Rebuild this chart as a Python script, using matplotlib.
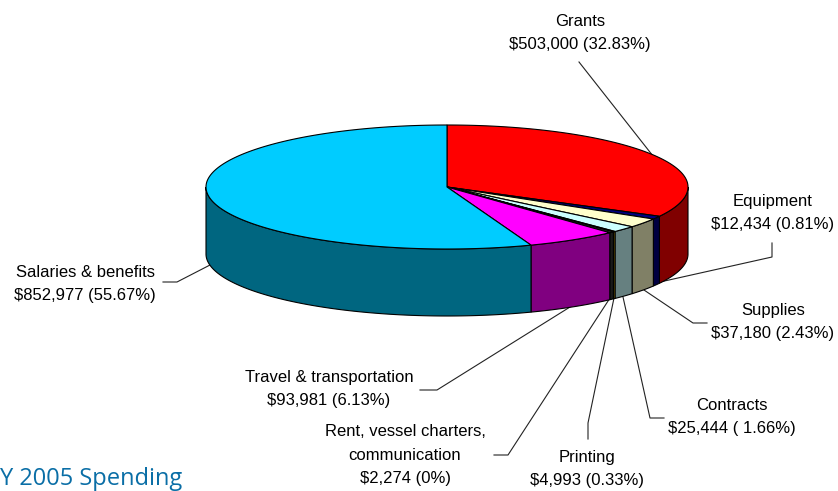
import matplotlib.pyplot as plt
import numpy as np

names = ['Grants', 'Equipment', 'Supplies', 'Contracts', 'Rent',
         'Printing', 'Travel', 'Salaries']
spending = [503000, 12434, 37180, 25444, 2274, 4993, 93981, 852977]
top_colors = ['#ff0000', '#000080', '#ffffcc', '#ccffff', '#ffcc00',
              '#333333', '#ff00ff', '#00ccff']
side_colors = ['#800000', '#000040', '#808066', '#668080', '#806600',
               '#1a1a1a', '#800080', '#006680']
labels = ['Grants\n$503,000 (32.83%)',
          'Equipment\n$12,434 (0.81%)',
          'Supplies\n$37,180 (2.43%)',
          'Contracts\n$25,444 ( 1.66%)',
          'Printing\n$4,993 (0.33%)',
          'Rent, vessel charters,\ncommunication\n$2,274 (0%)',
          'Travel & transportation\n$93,981 (6.13%)',
          'Salaries & benefits\n$852,977 (55.67%)']
label_pos = [(580, 33), (773, 213), (773, 322), (732, 417), (587, 469),
             (405, 455), (329, 389), (85, 284)]
# leader lines, in pixels
leaders = [[(579, 62), (653, 156)],
           [(660, 282), (772, 257), (772, 243)],
           [(644, 290), (693, 323), (707, 323)],
           [(623, 297), (650, 418), (664, 418)],
           [(614, 298), (588, 423), (588, 439)],
           [(610, 298), (508, 455), (494, 455)],
           [(570, 307), (437, 390), (420, 390)],
           [(210, 265), (177, 282), (163, 282)]]

cx, cy = 447, 187
a, b = 241, 62
depth = 67

fig = plt.figure(figsize=(8.38, 4.91), dpi=100)
ax = fig.add_axes([0, 0, 1, 1])
ax.set_xlim(0, 838)
ax.set_ylim(491, 0)
ax.axis('off')
plt.rcParams['font.family'] = ['Liberation Sans', 'DejaVu Sans']


def rim(t0, t1):
    t = np.radians(np.linspace(t0, t1, max(int(t1 - t0) * 2, 2) + 1))
    return cx + a * np.sin(t), cy - b * np.cos(t)


edges = np.concatenate([[0], np.cumsum(spending)]) / sum(spending) * 360

# front wall
for i in range(len(spending)):
    t0, t1 = max(edges[i], 90), min(edges[i + 1], 270)
    if t1 > t0:
        x, y = rim(t0, t1)
        ax.fill(np.r_[x, x[::-1]], np.r_[y, y[::-1] + depth],
                facecolor=side_colors[i], edgecolor='black', lw=0.8, zorder=2)

# top of the pie
for i in range(len(spending)):
    x, y = rim(edges[i], edges[i + 1])
    ax.fill(np.r_[cx, x], np.r_[cy, y], facecolor=top_colors[i],
            edgecolor='black', lw=0.8, zorder=3)

for pts in leaders:
    xs, ys = zip(*pts)
    ax.plot(xs, ys, color='#222222', lw=0.8, zorder=1)

for lab, (x, y) in zip(labels, label_pos):
    ax.text(x, y, lab, ha='center', va='center', fontsize=12,
            color='black', linespacing=1.72, zorder=4)

ax.text(0, 485, 'Y 2005 Spending', fontsize=17, color='#0a6ea6',
        family='Open Sans', va='baseline', ha='left', zorder=4)

fig.savefig('out.png', dpi=100)
